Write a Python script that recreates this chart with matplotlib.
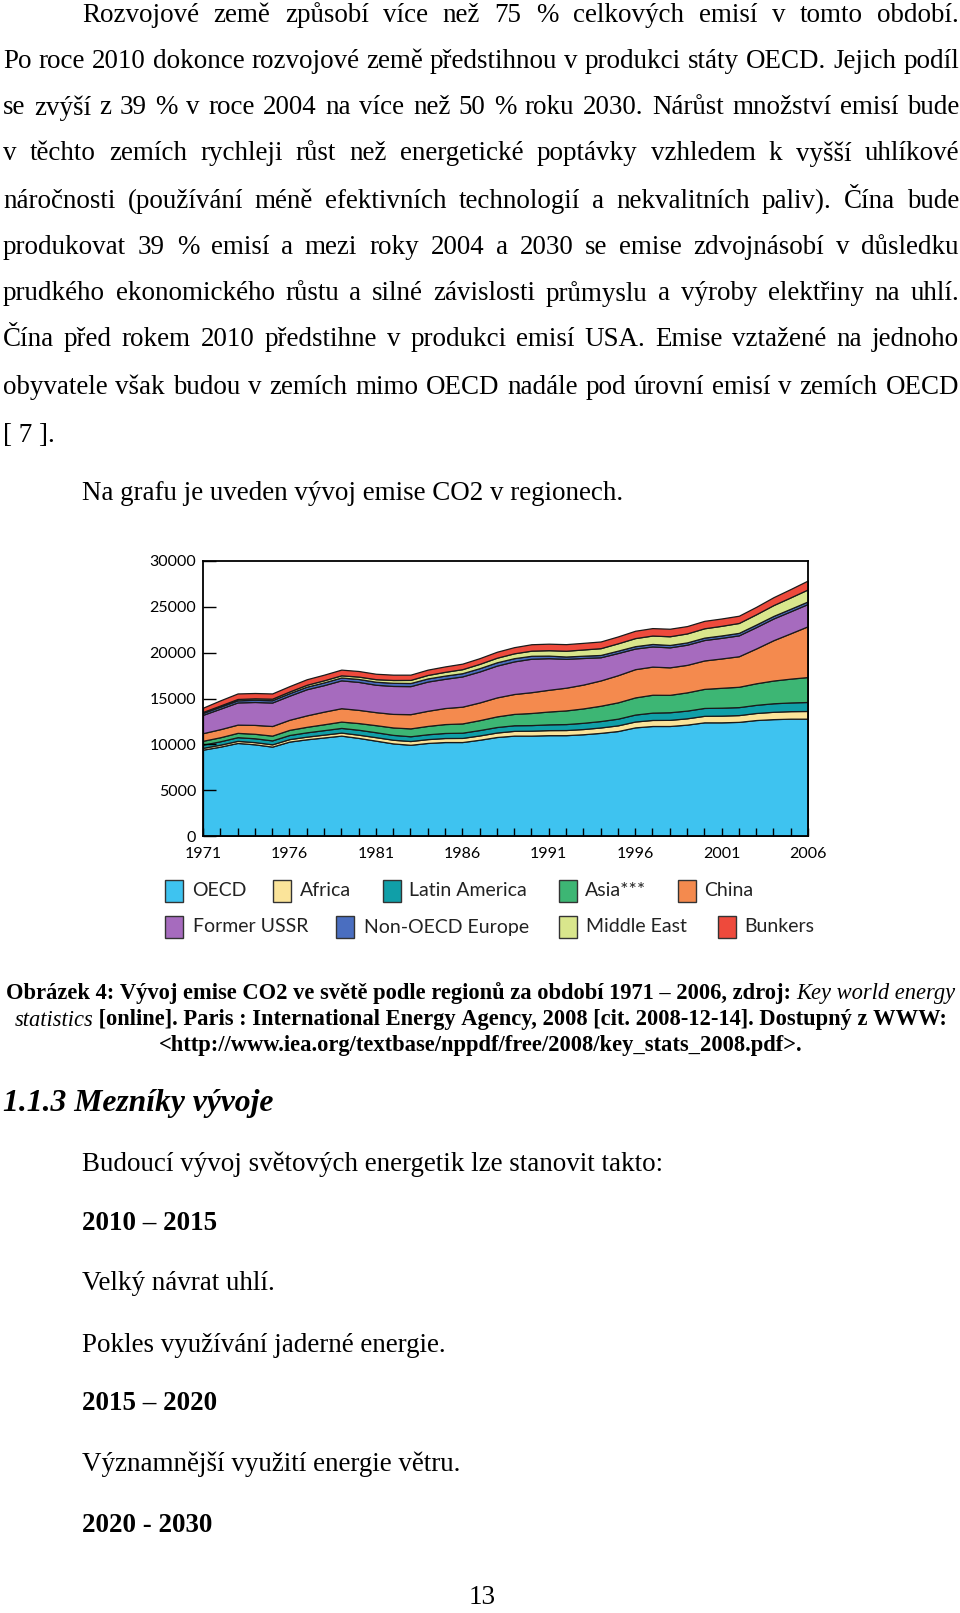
import numpy as np
import matplotlib
matplotlib.use("Agg")
import matplotlib.pyplot as plt
from matplotlib.patches import Rectangle

# --- data (Mt CO2) ---
years = np.arange(1971, 2007)
oecd = [9420, 9750, 10150, 10000, 9750, 10300, 10550, 10750, 10950, 10700, 10400, 10100,
        9950, 10150, 10250, 10250, 10500, 10800, 10950, 10950, 11000, 11000, 11100, 11250,
        11450, 11850, 12000, 12000, 12150, 12400, 12400, 12450, 12650, 12750, 12800, 12800]
africa = [200, 215, 230, 240, 250, 270, 290, 310, 330, 350, 380, 400, 410, 420, 440, 450,
          470, 490, 520, 540, 550, 560, 570, 590, 620, 640, 660, 670, 690, 710, 730, 740,
          770, 800, 820, 840]
latam = [350, 370, 400, 420, 430, 450, 470, 490, 510, 540, 540, 530, 520, 530, 550, 570,
         590, 600, 610, 610, 630, 650, 680, 700, 730, 760, 800, 830, 840, 860, 870, 870,
         890, 930, 950, 980]
asia = [420, 440, 470, 490, 520, 560, 600, 640, 690, 730, 770, 810, 860, 910, 970, 1010,
        1080, 1160, 1240, 1320, 1400, 1490, 1570, 1670, 1780, 1870, 1950, 1900, 1990, 2080,
        2170, 2220, 2350, 2480, 2600, 2720]
china = [830, 880, 900, 970, 1050, 1100, 1250, 1380, 1460, 1440, 1420, 1480, 1550, 1650,
         1750, 1830, 1930, 2070, 2170, 2270, 2370, 2480, 2600, 2760, 2960, 3080, 3070, 3000,
         3000, 3100, 3200, 3330, 3800, 4400, 4950, 5550]
ussr = [2000, 2235, 2420, 2500, 2560, 2630, 2850, 2890, 3040, 3050, 2990, 3050, 3060, 3190,
        3190, 3300, 3380, 3470, 3560, 3650, 3450, 3150, 2900, 2530, 2420, 2250, 2200, 2180,
        2200, 2230, 2250, 2280, 2330, 2370, 2400, 2430]
noneu = [210, 220, 230, 240, 250, 270, 280, 300, 310, 320, 330, 340, 340, 340, 350, 350,
         360, 360, 350, 320, 280, 250, 250, 250, 260, 260, 270, 260, 250, 260, 260, 270,
         280, 280, 280, 280]
mideast = [110, 130, 150, 160, 170, 190, 210, 230, 240, 260, 280, 310, 340, 380, 410, 440,
           470, 500, 530, 560, 590, 630, 680, 740, 800, 880, 920, 950, 980, 1020, 1050, 1080,
           1120, 1180, 1240, 1310]
bunkers = [460, 560, 600, 580, 570, 580, 600, 610, 620, 610, 590, 580, 570, 580, 590, 600,
           620, 650, 670, 700, 710, 720, 720, 730, 750, 800, 810, 820, 800, 810, 800, 790,
           810, 860, 910, 970]

names = ["OECD", "Africa", "Latin America", "Asia***", "China",
         "Former USSR", "Non-OECD Europe", "Middle East", "Bunkers"]
colors = ["#3ec3f0", "#fbe49a", "#109fa8", "#3db674", "#f48a4e",
          "#a66bbe", "#4a6ec0", "#d9e68c", "#ee4a3c"]
xlabels = ["1971", "1976", "1981", "1986", "1991", "1996", "2001", "2006"]

W, H = 960, 1613
DY = 3  # small downward nudge for all page text
fig = plt.figure(figsize=(W / 100, H / 100), dpi=100)
renderer = fig.canvas.get_renderer()


def fx(x):
    return x / W


def fy(y):
    return 1 - y / H


def text_w(s, **kw):
    t = fig.text(0, 0, s, **kw)
    w = t.get_window_extent(renderer).width
    t.remove()
    return w


serif = "Liberation Serif"
body = 10 * 583 / text_w("Budoucí vývoj světových energetik lze stanovit takto:",
                         family=serif, size=10)


def justify(line, x0, x1, y):
    words = line.split()
    ws = [text_w(w, family=serif, size=body) for w in words]
    gap = (x1 - x0 - sum(ws)) / (len(words) - 1)
    x = x0
    for w, wd in zip(words, ws):
        fig.text(fx(x), fy(y + DY), w, family=serif, size=body, va="center", ha="left")
        x += wd + gap


para = [
    "Rozvojové země způsobí více než 75 % celkových emisí v tomto období.",
    "Po roce 2010 dokonce rozvojové země předstihnou v produkci státy OECD. Jejich podíl",
    "se zvýší z 39 % v roce 2004 na více než 50 % roku 2030. Nárůst množství emisí bude",
    "v těchto zemích rychleji růst než energetické poptávky vzhledem k vyšší uhlíkové",
    "náročnosti (používání méně efektivních technologií a nekvalitních paliv). Čína bude",
    "produkovat 39 % emisí a mezi roky 2004 a 2030 se emise zdvojnásobí v důsledku",
    "prudkého ekonomického růstu a silné závislosti průmyslu a výroby elektřiny na uhlí.",
    "Čína před rokem 2010 předstihne v produkci emisí USA. Emise vztažené na jednoho",
    "obyvatele však budou v zemích mimo OECD nadále pod úrovní emisí v zemích OECD",
]
line_y = [12, 59, 105, 151, 198, 245, 291, 337, 385]
for i, (ln, y) in enumerate(zip(para, line_y)):
    justify(ln, 82 if i == 0 else 3, 959, y)
fig.text(fx(3), fy(432 + DY), "[ 7 ].", family=serif, size=body, va="center")
fig.text(fx(82), fy(491 + DY), "Na grafu je uveden vývoj emise CO2 v regionech.",
         family=serif, size=body, va="center")

# --- chart ---
ax = fig.add_axes([fx(203), fy(836), (808 - 203) / W, (836 - 561) / H])
ax.stackplot(years, oecd, africa, latam, asia, china, ussr, noneu, mideast, bunkers,
             colors=colors, edgecolor="#1a1a1a", linewidth=0.9)
ax.set_xlim(1971, 2006)
ax.set_ylim(0, 30000)
ax.set_xticks(years)
ax.set_xticklabels([str(y) if str(y) in xlabels else "" for y in years])
ax.set_yticks(range(0, 30001, 5000))
ax.set_yticklabels([str(v) for v in range(0, 30001, 5000)])
ax.tick_params(axis="x", direction="in", length=6, width=1, pad=8, labelsize=11.5)
ax.tick_params(axis="y", direction="in", length=9, width=1, pad=5, labelsize=11.5)
for lab in ax.get_xticklabels() + ax.get_yticklabels():
    lab.set_family("Lato")
for sp in ax.spines.values():
    sp.set_linewidth(1.3)

# legend laid out like the reference (two uneven rows)
leg_rows = [
    (891, [165, 273, 383, 559, 678], [192, 300, 409, 585, 704], range(0, 5)),
    (927, [165, 336, 559, 718], [193, 364, 586, 744], range(5, 9)),
]
for y, px, tx, idx in leg_rows:
    for p, t, i in zip(px, tx, idx):
        fig.add_artist(Rectangle((fx(p), fy(y + 11)), 18 / W, 22 / H,
                                 transform=fig.transFigure, facecolor=colors[i],
                                 edgecolor="#333333", linewidth=1))
        fig.text(fx(t), fy(y), names[i], family="Lato", size=14, va="center",
                 color="#222222")

# --- caption ---
cap1 = [("Obrázek 4: Vývoj emise CO2 ve světě podle regionů za období 1971 – 2006, zdroj: ", "bold", "normal"),
        ("Key world energy", "normal", "italic")]
cap2 = [("statistics", "normal", "italic"),
        (" [online]. Paris : International Energy Agency, 2008 [cit. 2008-12-14]. Dostupný z WWW:", "bold", "normal")]
cap3 = [("<http://www.iea.org/textbase/nppdf/free/2008/key_stats_2008.pdf>.", "bold", "normal")]


def pieces_w(pieces, size):
    return sum(text_w(s.replace(" ", "\u00a0"), family=serif, size=size, weight=wt, style=st)
               for s, wt, st in pieces)


cap_size = 10 * 952 / pieces_w(cap1, 10)
for pieces, y in [(cap1, 990), (cap2, 1017), (cap3, 1042)]:
    total = pieces_w(pieces, cap_size)
    x = 481 - total / 2
    for s, wt, st in pieces:
        s2 = s.replace(" ", "\u00a0")
        fig.text(fx(x), fy(y + DY), s2, family=serif, size=cap_size, weight=wt, style=st,
                 va="center")
        x += text_w(s2, family=serif, size=cap_size, weight=wt, style=st)

fig.text(fx(3), fy(1100 + DY), "1.1.3 Mezníky vývoje", family=serif, size=body * 1.17,
         weight="bold", style="italic", va="center")

rest = [
    ("Budoucí vývoj světových energetik lze stanovit takto:", 1161, "normal"),
    ("2010 – 2015", 1221, "bold"),
    ("Velký návrat uhlí.", 1281, "normal"),
    ("Pokles využívání jaderné energie.", 1342, "normal"),
    ("2015 – 2020", 1401, "bold"),
    ("Významnější využití energie větru.", 1461, "normal"),
    ("2020 - 2030", 1522, "bold"),
]
for s, y, wt in rest:
    fig.text(fx(82), fy(y + DY), s, family=serif, size=body, weight=wt, va="center")

fig.text(fx(482), fy(1598), "13", family=serif, size=body, ha="center", va="center")

fig.savefig("out.png", dpi=100, facecolor="white")
